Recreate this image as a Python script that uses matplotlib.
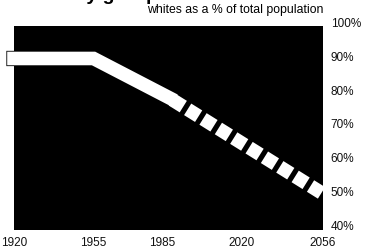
import matplotlib
matplotlib.use("Agg")
import matplotlib.pyplot as plt
import matplotlib.transforms as mtransforms
import matplotlib.patheffects as pe

# whites as a % of total population
years_actual = [1920, 1955, 1988]
pct_actual = [89.5, 89.5, 78.0]
years_proj = [1988, 2056]
pct_proj = [78.0, 49.5]

xtick_years = [1920, 1955, 1985, 2020, 2056]
ytick_pcts = [40, 50, 60, 70, 80, 90, 100]

fig = plt.figure(figsize=(3.67, 2.51), dpi=100)
fig.patch.set_facecolor("white")
ax = fig.add_axes([14 / 367, 20 / 251, 309 / 367, 204 / 251])
ax.set_facecolor("black")
for s in ax.spines.values():
    s.set_visible(False)

ax.set_xlim(1920, 2056)
ax.set_ylim(38.8, 99.1)

outline = [pe.Stroke(linewidth=11, foreground="black"), pe.Normal()]

ax.plot(years_actual, pct_actual, color="white", lw=9.8,
        solid_capstyle="projecting", solid_joinstyle="miter",
        clip_on=False, path_effects=outline, zorder=3)

ax.plot(years_proj, pct_proj, color="white", lw=9.8,
        linestyle=(1.0, (0.95, 0.38)), dash_capstyle="butt",
        clip_on=False, zorder=3)

ax.set_xticks(xtick_years)
ax.set_xticklabels([str(y) for y in xtick_years], family="Liberation Sans",
                   fontsize=8.5, color="#111111")
ax.tick_params(axis="x", length=0, pad=4)
ax.set_yticks([])

trans = mtransforms.blended_transform_factory(ax.transAxes, ax.transData)
for p in ytick_pcts:
    ax.text(1.025, p, "%d%%" % p, transform=trans, ha="left", va="center",
            family="Liberation Sans", fontsize=8.5, color="#111111",
            clip_on=False)

fig.text(323 / 367, 1 - 10 / 251, "whites as a % of total population",
         ha="right", va="center", fontsize=8.8, family="Liberation Sans")
fig.text(0.01, 1 - 0.5 / 251, "a minority group", ha="left", va="baseline",
         fontsize=14, fontweight="bold", family="Liberation Sans")

fig.savefig("out.png", dpi=100, facecolor="white")
